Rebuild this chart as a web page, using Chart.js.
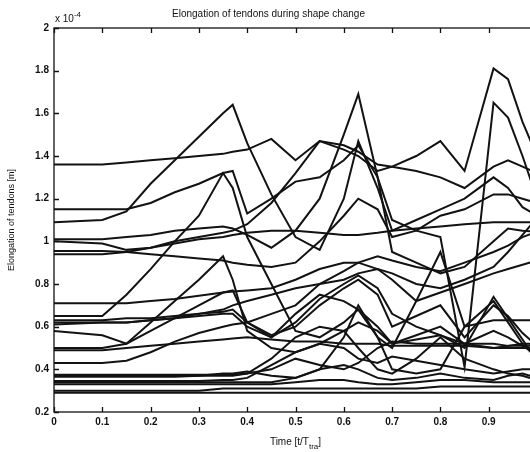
<!DOCTYPE html>
<html>
<head>
<meta charset="utf-8">
<script src="https://cdn.jsdelivr.net/npm/chart.js@4.4.1/dist/chart.umd.min.js"></script>
<style>
  html, body { margin: 0; padding: 0; background: #fff; overflow: hidden; }
  #chart-area { width: 560px; height: 452px; }
</style>
</head>
<body>
<div id="chart-area"><canvas id="chart-canvas" width="560" height="452"></canvas></div>
<script>
// Instantes de muestreo (t/T_tra)
const timeSteps = [0, 0.1, 0.15, 0.2, 0.25, 0.3, 0.35, 0.37, 0.4, 0.45, 0.5, 0.55, 0.6, 0.63, 0.67, 0.7, 0.75, 0.8, 0.85, 0.91, 0.94, 0.97, 1.0];

// Elongación de cada tendón (x 10^-4 m)
const tendon01 = [1.36, 1.36, 1.37, 1.38, 1.39, 1.40, 1.41, 1.42, 1.43, 1.48, 1.38, 1.47, 1.43, 1.40, 1.33, 1.35, 1.40, 1.47, 1.33, 1.81, 1.76, 1.56, 1.40];
const tendon02 = [1.15, 1.15, 1.15, 1.18, 1.23, 1.27, 1.32, 1.33, 1.13, 1.20, 1.28, 1.30, 1.38, 1.45, 1.30, 1.10, 1.05, 1.02, 0.41, 1.65, 1.58, 1.40, 1.20];
const tendon03 = [1.09, 1.10, 1.14, 1.27, 1.38, 1.49, 1.60, 1.64, 1.46, 1.22, 1.02, 0.96, 1.20, 1.47, 1.25, 1.05, 1.10, 1.15, 1.20, 1.30, 1.25, 1.16, 1.12];
const tendon04 = [1.01, 1.01, 1.02, 1.03, 1.05, 1.06, 1.07, 1.06, 1.03, 0.97, 1.05, 1.20, 1.50, 1.69, 1.30, 0.95, 0.90, 0.85, 0.88, 1.00, 1.06, 1.05, 1.045];
const tendon05 = [1.00, 0.99, 0.96, 0.97, 0.99, 1.01, 1.02, 1.03, 1.04, 1.05, 1.05, 1.04, 1.03, 1.03, 1.04, 1.05, 1.06, 1.07, 1.08, 1.09, 1.09, 1.09, 1.09];
const tendon06 = [0.955, 0.955, 0.95, 0.94, 0.93, 0.92, 0.91, 0.90, 0.89, 0.88, 0.90, 1.00, 1.12, 1.20, 1.15, 1.02, 1.05, 1.12, 1.15, 1.22, 1.22, 1.20, 1.18];
const tendon07 = [0.94, 0.94, 0.95, 0.97, 1.00, 1.02, 1.04, 1.05, 1.08, 1.18, 1.32, 1.47, 1.45, 1.42, 1.36, 1.35, 1.33, 1.30, 1.25, 1.35, 1.38, 1.35, 1.32];
const tendon08 = [0.71, 0.71, 0.71, 0.72, 0.73, 0.745, 0.76, 0.765, 0.77, 0.78, 0.82, 0.87, 0.90, 0.90, 0.87, 0.82, 0.72, 0.76, 0.80, 0.85, 0.87, 0.89, 0.91];
const tendon09 = [0.65, 0.65, 0.75, 0.87, 1.00, 1.12, 1.32, 1.25, 1.02, 0.80, 0.58, 0.55, 0.62, 0.68, 0.55, 0.50, 0.72, 0.95, 0.60, 0.63, 0.63, 0.63, 0.63];
const tendon10 = [0.63, 0.63, 0.64, 0.64, 0.65, 0.66, 0.67, 0.68, 0.62, 0.56, 0.60, 0.70, 0.78, 0.82, 0.75, 0.60, 0.65, 0.70, 0.55, 0.70, 0.65, 0.57, 0.51];
const tendon11 = [0.61, 0.62, 0.62, 0.63, 0.64, 0.65, 0.66, 0.66, 0.60, 0.55, 0.66, 0.75, 0.72, 0.68, 0.60, 0.52, 0.56, 0.60, 0.52, 0.58, 0.55, 0.51, 0.47];
const tendon12 = [0.58, 0.56, 0.52, 0.62, 0.72, 0.82, 0.93, 0.82, 0.58, 0.50, 0.48, 0.52, 0.58, 0.62, 0.58, 0.52, 0.54, 0.56, 0.52, 0.50, 0.51, 0.52, 0.52];
const tendon13 = [0.50, 0.50, 0.52, 0.58, 0.64, 0.70, 0.76, 0.77, 0.62, 0.55, 0.62, 0.73, 0.80, 0.84, 0.78, 0.66, 0.60, 0.56, 0.50, 0.74, 0.64, 0.54, 0.44];
const tendon14 = [0.49, 0.49, 0.50, 0.51, 0.52, 0.53, 0.54, 0.545, 0.55, 0.54, 0.53, 0.53, 0.52, 0.52, 0.52, 0.51, 0.51, 0.51, 0.51, 0.50, 0.50, 0.50, 0.50];
const tendon15 = [0.43, 0.43, 0.44, 0.48, 0.53, 0.57, 0.60, 0.61, 0.62, 0.66, 0.70, 0.80, 0.86, 0.90, 0.93, 0.91, 0.88, 0.86, 0.90, 0.95, 0.98, 1.02, 1.045];
const tendon16 = [0.375, 0.375, 0.375, 0.375, 0.375, 0.375, 0.375, 0.375, 0.38, 0.40, 0.45, 0.42, 0.40, 0.43, 0.50, 0.53, 0.52, 0.52, 0.52, 0.52, 0.51, 0.51, 0.51];
const tendon17 = [0.37, 0.37, 0.37, 0.37, 0.37, 0.37, 0.38, 0.38, 0.39, 0.37, 0.36, 0.40, 0.55, 0.70, 0.55, 0.40, 0.38, 0.40, 0.60, 0.72, 0.62, 0.52, 0.45];
const tendon18 = [0.345, 0.345, 0.345, 0.345, 0.345, 0.345, 0.35, 0.35, 0.36, 0.42, 0.48, 0.52, 0.50, 0.45, 0.43, 0.46, 0.44, 0.42, 0.40, 0.38, 0.39, 0.40, 0.40];
const tendon19 = [0.34, 0.34, 0.34, 0.34, 0.34, 0.34, 0.34, 0.34, 0.34, 0.34, 0.36, 0.40, 0.42, 0.40, 0.36, 0.35, 0.36, 0.38, 0.36, 0.35, 0.37, 0.38, 0.36];
const tendon20 = [0.33, 0.33, 0.33, 0.33, 0.33, 0.33, 0.33, 0.33, 0.33, 0.33, 0.34, 0.35, 0.35, 0.34, 0.33, 0.33, 0.34, 0.35, 0.35, 0.34, 0.34, 0.34, 0.34];
const tendon21 = [0.30, 0.30, 0.30, 0.30, 0.30, 0.30, 0.31, 0.31, 0.31, 0.31, 0.31, 0.31, 0.31, 0.31, 0.31, 0.31, 0.31, 0.32, 0.32, 0.32, 0.32, 0.32, 0.32];
const tendon22 = [0.29, 0.29, 0.29, 0.29, 0.29, 0.29, 0.29, 0.29, 0.29, 0.29, 0.29, 0.29, 0.29, 0.29, 0.29, 0.29, 0.29, 0.29, 0.29, 0.29, 0.29, 0.29, 0.29];
const tendon23 = [0.365, 0.365, 0.365, 0.365, 0.365, 0.37, 0.37, 0.37, 0.38, 0.45, 0.55, 0.60, 0.58, 0.50, 0.40, 0.38, 0.45, 0.55, 0.45, 0.40, 0.38, 0.37, 0.35];
const tendon24 = [0.62, 0.62, 0.62, 0.63, 0.64, 0.66, 0.68, 0.70, 0.72, 0.75, 0.78, 0.80, 0.82, 0.85, 0.87, 0.85, 0.80, 0.78, 0.82, 0.88, 0.95, 1.03, 1.11];

const tendonSeries = [
    tendon01, tendon02, tendon03, tendon04, tendon05, tendon06, tendon07, tendon08,
    tendon09, tendon10, tendon11, tendon12, tendon13, tendon14, tendon15, tendon16,
    tendon17, tendon18, tendon19, tendon20, tendon21, tendon22, tendon23, tendon24,
];

const chartTitle = 'Elongation of tendons during shape change';
const yAxisTitle = 'Elongation of tendons [m]';
const FONT = '"Liberation Sans", Arial, sans-serif';

/**
 * Dibuja el marco tipo MATLAB: caja, marcas hacia dentro, factor x10^-4 y título del eje x.
 */
const matlabFrame = {
    id: 'matlabFrame',
    afterDraw(chart) {
        const { ctx, chartArea: a, scales: { x, y } } = chart;
        ctx.save();
        ctx.strokeStyle = '#111';
        ctx.lineWidth = 1.3;
        ctx.strokeRect(a.left, a.top, a.right - a.left, a.bottom - a.top);

        ctx.beginPath();
        x.ticks.forEach((t) => {
            const px = Math.round(x.getPixelForValue(t.value)) + 0.5;
            ctx.moveTo(px, a.bottom); ctx.lineTo(px, a.bottom - 5);
            ctx.moveTo(px, a.top); ctx.lineTo(px, a.top + 5);
        });
        y.ticks.forEach((t) => {
            const py = Math.round(y.getPixelForValue(t.value)) + 0.5;
            ctx.moveTo(a.left, py); ctx.lineTo(a.left + 5, py);
            ctx.moveTo(a.right, py); ctx.lineTo(a.right - 5, py);
        });
        ctx.stroke();

        // factor de escala
        ctx.fillStyle = '#111';
        ctx.textBaseline = 'alphabetic';
        ctx.textAlign = 'left';
        ctx.font = `10px ${FONT}`;
        ctx.fillText('x 10', a.left + 1, a.top - 6);
        const w10 = ctx.measureText('x 10').width;
        ctx.font = `8px ${FONT}`;
        ctx.fillText('-4', a.left + 1 + w10, a.top - 11);

        // título eje x con subíndice
        const part1 = 'Time [t/T';
        const sub = 'tra';
        const part2 = ']';
        ctx.font = `10px ${FONT}`;
        const w1 = ctx.measureText(part1).width;
        const w3 = ctx.measureText(part2).width;
        ctx.font = `8px ${FONT}`;
        const w2 = ctx.measureText(sub).width;
        const cx = (a.left + a.right) / 2;
        const sx = cx - (w1 + w2 + w3) / 2;
        const base = a.bottom + 33;
        ctx.font = `10px ${FONT}`;
        ctx.fillText(part1, sx, base);
        ctx.font = `8px ${FONT}`;
        ctx.fillText(sub, sx + w1, base + 4);
        ctx.font = `10px ${FONT}`;
        ctx.fillText(part2, sx + w1 + w2, base);
        ctx.restore();
    },
};

function renderTendonChart(canvasId) {
    const ctx = document.getElementById(canvasId).getContext('2d');

    new Chart(ctx, {
        type: 'line',
        data: {
            datasets: tendonSeries.map((values, index) => ({
                label: `Tendón ${index + 1}`,
                data: values.map((v, i) => ({ x: timeSteps[i], y: v })),
                borderColor: '#121212',
                borderWidth: 2,
                pointRadius: 0,
                tension: 0,
                fill: false,
            })),
        },
        options: {
            responsive: false,
            animation: false,
            layout: { padding: { right: 23 } },
            plugins: {
                legend: { display: false },
                tooltip: { enabled: false },
                title: {
                    display: true,
                    text: chartTitle,
                    color: '#111',
                    font: { family: FONT, size: 10, weight: 'normal' },
                    padding: { top: 8, bottom: 8 },
                },
            },
            scales: {
                x: {
                    type: 'linear',
                    min: 0,
                    max: 1,
                    grid: { display: false, drawTicks: false },
                    border: { display: false },
                    ticks: {
                        stepSize: 0.1,
                        padding: 4,
                        color: '#111',
                        font: { family: FONT, size: 10, weight: 'bold' },
                        maxRotation: 0,
                        callback: (v) => String(Number(v.toFixed(1))),
                    },
                    afterFit: (scale) => { scale.height = 40; },
                },
                y: {
                    min: 0.2,
                    max: 2,
                    grid: { display: false, drawTicks: false },
                    border: { display: false },
                    ticks: {
                        stepSize: 0.2,
                        padding: 5,
                        color: '#111',
                        font: { family: FONT, size: 10, weight: 'bold' },
                        callback: (v) => String(Number(v.toFixed(1))),
                    },
                    title: {
                        display: true,
                        text: yAxisTitle,
                        color: '#111',
                        font: { family: FONT, size: 9 },
                        padding: { top: 6, bottom: 0 },
                    },
                    afterFit: (scale) => { scale.width = 54; },
                },
            },
        },
        plugins: [matlabFrame],
    });
}

renderTendonChart('chart-canvas');
</script>
</body>
</html>
